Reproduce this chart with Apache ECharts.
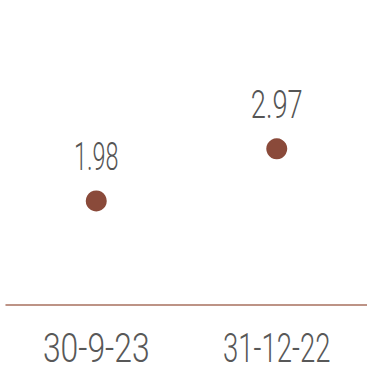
<!DOCTYPE html>
<html>
<head>
<meta charset="utf-8">
<style>
  html, body { margin: 0; padding: 0; background: #fff; overflow: hidden; }
  #chart { width: 367px; height: 368px; overflow: hidden; }
  #chart svg { display: block; }
</style>
<script src="https://cdn.jsdelivr.net/npm/echarts@6/dist/echarts.min.js"></script>
</head>
<body>
<div id="chart"></div>
<script>
// Period-end dates and the value at each
const categories = ['30-9-23', '31-12-22'];
const values = [1.98, 2.97];

const FONT = 'Roboto, "DejaVu Sans Condensed", sans-serif';
const AXIS_FONT_SIZE = 41;
const VALUE_FONT_SIZE = 39;
// Advance widths (in em) of a condensed numeral face, used to narrow the text runs
const CONDENSED_EM = { '1': 0.21, '-': 0.30, '.': 0.13 };
const CONDENSED_DIGIT_EM = 0.40;

const chart = echarts.init(document.getElementById('chart'), null, { renderer: 'svg' });
chart.setOption({
  animation: false,
  grid: { left: 6, right: 0, top: 0, bottom: 63, outerBoundsMode: 'none' },
  xAxis: {
    type: 'category',
    data: categories,
    axisLine: { lineStyle: { color: '#a8705f', width: 1.5 } },
    axisTick: { show: false },
    axisLabel: {
      interval: 0,
      hideOverlap: false,
      color: '#585858',
      fontFamily: FONT,
      fontWeight: 300,
      fontSize: AXIS_FONT_SIZE,
      margin: 22
    }
  },
  yAxis: {
    type: 'value',
    min: 0,
    max: 5.8,
    show: false,
    splitLine: { show: false }
  },
  series: [{
    type: 'scatter',
    data: values,
    symbolSize: 21,
    itemStyle: { color: '#8a4a3a', opacity: 1 },
    label: {
      show: true,
      position: 'top',
      distance: 14,
      color: '#555555',
      fontFamily: FONT,
      fontWeight: 300,
      fontSize: VALUE_FONT_SIZE,
      formatter: p => p.value.toFixed(2)
    }
  }]
});

// Squeeze each rendered text run to the width of the condensed face
function condenseText() {
  document.querySelectorAll('#chart svg text').forEach(t => {
    if (t.getAttribute('lengthAdjust')) return;
    const str = t.textContent;
    if (!str) return;
    const size = parseFloat(getComputedStyle(t).fontSize);
    let em = 0;
    for (const ch of str) em += (ch in CONDENSED_EM) ? CONDENSED_EM[ch] : CONDENSED_DIGIT_EM;
    t.setAttribute('textLength', (em * size).toFixed(1));
    t.setAttribute('lengthAdjust', 'spacingAndGlyphs');
  });
}
condenseText();
chart.on('finished', condenseText);
</script>
</body>
</html>
